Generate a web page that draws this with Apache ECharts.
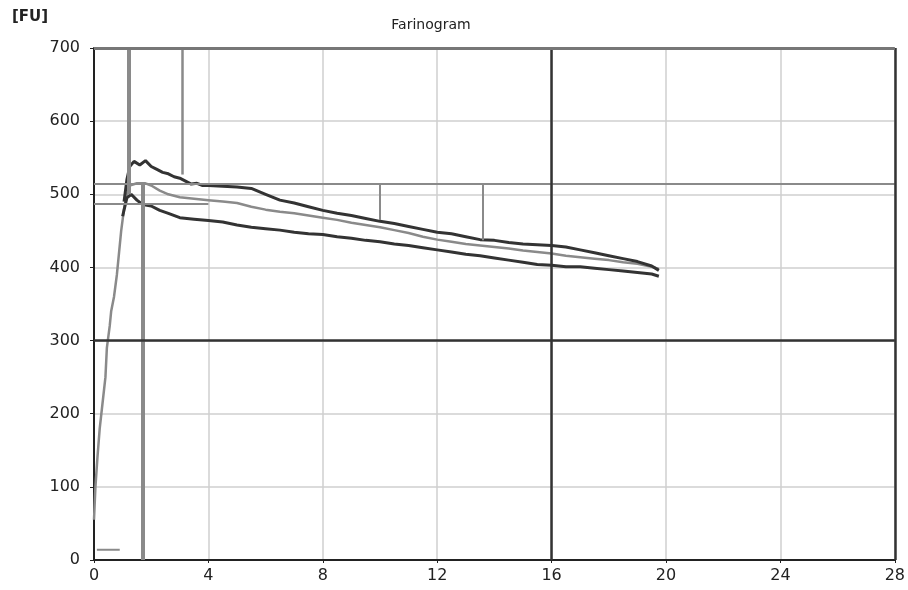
<!DOCTYPE html>
<html>
<head>
<meta charset="utf-8">
<script src="https://cdn.jsdelivr.net/npm/echarts@6/dist/echarts.min.js"></script>
<style>
  html, body { margin: 0; padding: 0; background: #fff; }
  #chart { width: 908px; height: 590px; }
</style>
</head>
<body>
<div id="chart"></div>
<script>
// time in minutes, consistency in FU
var upperCurve = [
  [1.05, 490], [1.15, 520], [1.25, 538], [1.4, 545], [1.6, 540], [1.8, 546], [2.0, 538],
  [2.2, 534], [2.4, 530], [2.6, 528], [2.8, 524], [3.0, 522], [3.2, 518], [3.4, 514],
  [3.6, 515], [3.8, 512], [4.0, 512], [4.5, 511], [5.0, 510], [5.5, 508], [6.0, 500],
  [6.5, 492], [7.0, 488], [7.5, 483], [8.0, 478], [8.5, 474], [9.0, 471], [9.5, 467],
  [10.0, 463], [10.5, 460], [11.0, 456], [11.5, 452], [12.0, 448], [12.5, 446], [13.0, 442],
  [13.5, 438], [14.0, 437], [14.5, 434], [15.0, 432], [15.5, 431], [16.0, 430], [16.5, 428],
  [17.0, 424], [17.5, 420], [18.0, 416], [18.5, 412], [19.0, 408], [19.5, 402], [19.75, 396]
];
var middleCurve = [
  [0, 55], [0.05, 100], [0.12, 140], [0.2, 180], [0.3, 215], [0.4, 250], [0.45, 290],
  [0.55, 320], [0.6, 340], [0.7, 360], [0.8, 390], [0.85, 410], [0.95, 450], [1.05, 480],
  [1.15, 500], [1.25, 512], [1.5, 515], [1.8, 515], [2.0, 512], [2.3, 505], [2.6, 500],
  [3.0, 496], [3.5, 494], [4.0, 492], [4.5, 490], [5.0, 488], [5.5, 483], [6.0, 479],
  [6.5, 476], [7.0, 474], [7.5, 471], [8.0, 468], [8.5, 465], [9.0, 461], [9.5, 458],
  [10.0, 455], [10.5, 451], [11.0, 447], [11.5, 442], [12.0, 438], [12.5, 435], [13.0, 432],
  [13.5, 430], [14.0, 428], [14.5, 426], [15.0, 423], [15.5, 421], [16.0, 419], [16.5, 416],
  [17.0, 414], [17.5, 412], [18.0, 410], [18.5, 407], [19.0, 405], [19.5, 401], [19.75, 398]
];
var lowerCurve = [
  [1.0, 470], [1.15, 495], [1.3, 500], [1.5, 492], [1.7, 486], [2.0, 484], [2.3, 478],
  [2.6, 474], [3.0, 468], [3.5, 466], [4.0, 464], [4.5, 462], [5.0, 458], [5.5, 455],
  [6.0, 453], [6.5, 451], [7.0, 448], [7.5, 446], [8.0, 445], [8.5, 442], [9.0, 440],
  [9.5, 437], [10.0, 435], [10.5, 432], [11.0, 430], [11.5, 427], [12.0, 424], [12.5, 421],
  [13.0, 418], [13.5, 416], [14.0, 413], [14.5, 410], [15.0, 407], [15.5, 404], [16.0, 403],
  [16.5, 401], [17.0, 401], [17.5, 399], [18.0, 397], [18.5, 395], [19.0, 393], [19.5, 391],
  [19.75, 388]
];
var baseLine = [[0.1, 14], [0.9, 14]];

// vertical markers: [time, from FU, to FU, width]
var markersV = [
  [1.2, 500, 700, 4],
  [1.72, 0, 514, 4],
  [3.07, 527, 700, 2.5],
  [10.0, 465, 514, 2],
  [13.6, 437, 514, 2]
];
// horizontal markers: [FU, from time, to time]
var markersH = [
  [514, 0, 28],
  [487, 0, 4]
];
// dark grid lines
var darkX = [16, 28];
var darkY = [300];
var topLine = 700;

var chart = echarts.init(document.getElementById('chart'));

function seg(x1, y1, x2, y2, color, width) {
  return [
    { coord: [x1, y1], lineStyle: { type: 'solid', width: width, color: color } },
    { coord: [x2, y2] }
  ];
}

var markData = [];
markersV.forEach(function (m) {
  markData.push(seg(m[0], m[1], m[0], m[2], '#8a8a8a', m[3]));
});
markersH.forEach(function (m) {
  markData.push(seg(m[1], m[0], m[2], m[0], '#8a8a8a', 2));
});
darkX.forEach(function (x) {
  markData.push(seg(x, 0, x, 700, '#333', 2.5));
});
darkY.forEach(function (y) {
  markData.push(seg(0, y, 28, y, '#333', 2.5));
});
markData.push(seg(0, topLine, 28, topLine, '#777', 3));

chart.setOption({
  animation: false,
  textStyle: { fontFamily: 'DejaVu Sans' },
  title: {
    text: 'Farinogram',
    left: 426,
    textAlign: 'center',
    top: 13,
    textStyle: { fontSize: 14, fontWeight: 'normal', color: '#222', fontFamily: 'DejaVu Sans' }
  },
  graphic: [{
    type: 'text', left: 12, top: 10,
    style: { text: '[FU]', font: 'bold 15px DejaVu Sans', fill: '#222' }
  }],
  grid: { left: 94, right: 12, top: 48, bottom: 30 },
  xAxis: {
    type: 'value', min: 0, max: 28, interval: 4,
    axisLine: { lineStyle: { color: '#222', width: 2 } },
    axisTick: { length: 3, lineStyle: { color: '#222' } },
    axisLabel: { fontSize: 16, color: '#222', margin: 8 },
    splitLine: { show: true, lineStyle: { color: '#cfcfcf', width: 1.5 } }
  },
  yAxis: {
    type: 'value', min: 0, max: 700, interval: 100,
    axisLine: { show: true, lineStyle: { color: '#222', width: 2 } },
    axisTick: { show: true, length: 4, lineStyle: { color: '#222' } },
    axisLabel: { fontSize: 16, color: '#222', margin: 14 },
    splitLine: { show: true, lineStyle: { color: '#cfcfcf', width: 1.5 } }
  },
  series: [
    {
      type: 'line', data: [], silent: true,
      markLine: { symbol: 'none', silent: true, label: { show: false }, data: markData }
    },
    {
      type: 'line', data: baseLine, showSymbol: false,
      lineStyle: { color: '#8a8a8a', width: 2 }
    },
    {
      type: 'line', data: middleCurve, showSymbol: false,
      lineStyle: { color: '#8a8a8a', width: 2.5 }
    },
    {
      type: 'line', data: upperCurve, showSymbol: false,
      lineStyle: { color: '#333', width: 3 }
    },
    {
      type: 'line', data: lowerCurve, showSymbol: false,
      lineStyle: { color: '#333', width: 3 }
    }
  ]
});
</script>
</body>
</html>
